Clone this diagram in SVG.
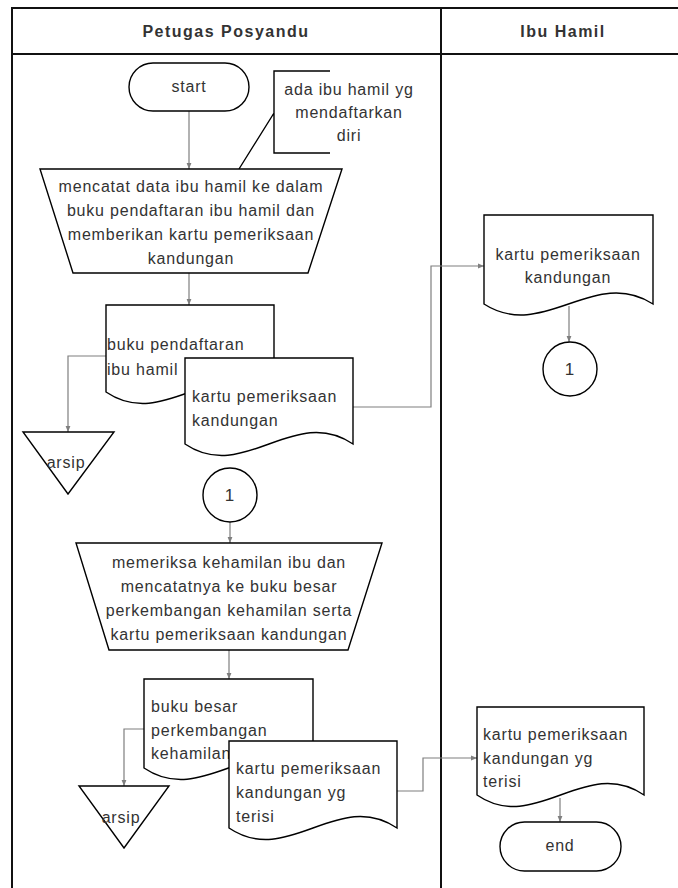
<svg xmlns="http://www.w3.org/2000/svg" width="678" height="888" viewBox="0 0 678 888">
<style>
  .frame{fill:none;stroke:#111;stroke-width:2}
  .shape{fill:#fff;stroke:#000;stroke-width:1.4}
  .ann{fill:none;stroke:#000;stroke-width:1.4}
  .conn{fill:none;stroke:#7f7f7f;stroke-width:1.2}
  text{font-family:"Liberation Sans",Arial,sans-serif;font-size:16px;fill:#333;letter-spacing:0.8px}
  .hdr{font-size:16px;font-weight:bold;fill:#333;letter-spacing:1.5px}
  .c{text-anchor:middle}
</style>
<defs>
  <marker id="arr" viewBox="0 0 10 10" refX="10" refY="5" markerUnits="userSpaceOnUse" markerWidth="6" markerHeight="6" orient="auto">
    <path d="M0,1 L10,5 L0,9 Z" fill="#7f7f7f"/>
  </marker>
</defs>
<rect width="678" height="888" fill="#fff"/>
<g id="swimlanes">
  <path class="frame" d="M12,888 V8 H680 M12,54 H680 M441,8 V888"/>
  <text class="hdr c" x="226" y="37">Petugas Posyandu</text>
  <text class="hdr c" x="563" y="37">Ibu Hamil</text>
</g>
<g id="connectors">
  <path class="conn" d="M189,111 V169" marker-end="url(#arr)"/>
  <path class="conn" d="M189,273 V305" marker-end="url(#arr)"/>
  <path class="conn" d="M106,356 H68 V432" marker-end="url(#arr)"/>
  <path class="conn" d="M353,407 H431 V266 H484" marker-end="url(#arr)"/>
  <path class="conn" d="M569,306 V342" marker-end="url(#arr)"/>
  <path class="conn" d="M230,522 V543" marker-end="url(#arr)"/>
  <path class="conn" d="M229,650 V679" marker-end="url(#arr)"/>
  <path class="conn" d="M144,729 H124 V786" marker-end="url(#arr)"/>
  <path class="conn" d="M397,791 H423 V758 H477" marker-end="url(#arr)"/>
  <path class="conn" d="M560,798 V822" marker-end="url(#arr)"/>
</g>
<g id="start">
  <rect class="shape" x="129" y="63" width="120" height="48" rx="24"/>
  <text class="c" x="189" y="92">start</text>
</g>
<g id="annotation">
  <path class="ann" d="M330,71 H274 V153 H330 M274,113 L239,169"/>
  <text class="c" x="349" y="95">ada ibu hamil yg</text>
  <text class="c" x="349" y="118">mendaftarkan</text>
  <text class="c" x="349" y="141">diri</text>
</g>
<g id="proses1">
  <path class="shape" d="M40,169 H342 L308,273 H73 Z"/>
  <text class="c" x="191" y="192">mencatat data ibu hamil ke dalam</text>
  <text class="c" x="191" y="216">buku pendaftaran ibu hamil dan</text>
  <text class="c" x="191" y="240">memberikan kartu pemeriksaan</text>
  <text class="c" x="191" y="264">kandungan</text>
</g>
<g id="buku-pendaftaran">
  <path class="shape" d="M106,305 H274 V392 C215,352 165,432 106,392 Z"/>
  <text x="107" y="350">buku pendaftaran</text>
  <text x="107" y="375">ibu hamil</text>
</g>
<g id="kartu1">
  <path class="shape" d="M185,358 H353 V444 C294,404 244,484 185,444 Z"/>
  <text x="192" y="402">kartu pemeriksaan</text>
  <text x="192" y="426">kandungan</text>
</g>
<g id="arsip1">
  <path class="shape" d="M23,432 H114 L68,494 Z"/>
  <text class="c" x="66" y="468">arsip</text>
</g>
<g id="kartu-ibu1">
  <path class="shape" d="M484,215 H653 V304 C594,266 543,342 484,304 Z"/>
  <text class="c" x="568" y="260">kartu pemeriksaan</text>
  <text class="c" x="568" y="283">kandungan</text>
</g>
<g id="konektor-ibu">
  <circle class="shape" cx="570" cy="369" r="27"/>
  <text class="c" x="570" y="375" style="font-size:17px">1</text>
</g>
<g id="konektor1">
  <circle class="shape" cx="230" cy="495" r="27"/>
  <text class="c" x="230" y="501" style="font-size:17px">1</text>
</g>
<g id="proses2">
  <path class="shape" d="M76,543 H382 L348,650 H109 Z"/>
  <text class="c" x="229" y="568">memeriksa kehamilan ibu dan</text>
  <text class="c" x="229" y="592">mencatatnya ke buku besar</text>
  <text class="c" x="229" y="616">perkembangan kehamilan serta</text>
  <text class="c" x="229" y="640">kartu pemeriksaan kandungan</text>
</g>
<g id="buku-besar">
  <path class="shape" d="M144,679 H313 V768 C254,728 203,808 144,768 Z"/>
  <text x="151" y="712">buku besar</text>
  <text x="151" y="736">perkembangan</text>
  <text x="151" y="759">kehamilan</text>
</g>
<g id="kartu2">
  <path class="shape" d="M229,741 H397 V828 C338,788 288,868 229,828 Z"/>
  <text x="236" y="774">kartu pemeriksaan</text>
  <text x="236" y="798">kandungan yg</text>
  <text x="236" y="822">terisi</text>
</g>
<g id="arsip2">
  <path class="shape" d="M79,786 H169 L124,848 Z"/>
  <text class="c" x="121" y="823">arsip</text>
</g>
<g id="kartu-ibu2">
  <path class="shape" d="M477,707 H644 V795 C586,755 535,835 477,795 Z"/>
  <text x="483" y="740">kartu pemeriksaan</text>
  <text x="483" y="764">kandungan yg</text>
  <text x="483" y="787">terisi</text>
</g>
<g id="end">
  <rect class="shape" x="500" y="822" width="121" height="49" rx="24.5"/>
  <text class="c" x="560" y="851">end</text>
</g>
</svg>
